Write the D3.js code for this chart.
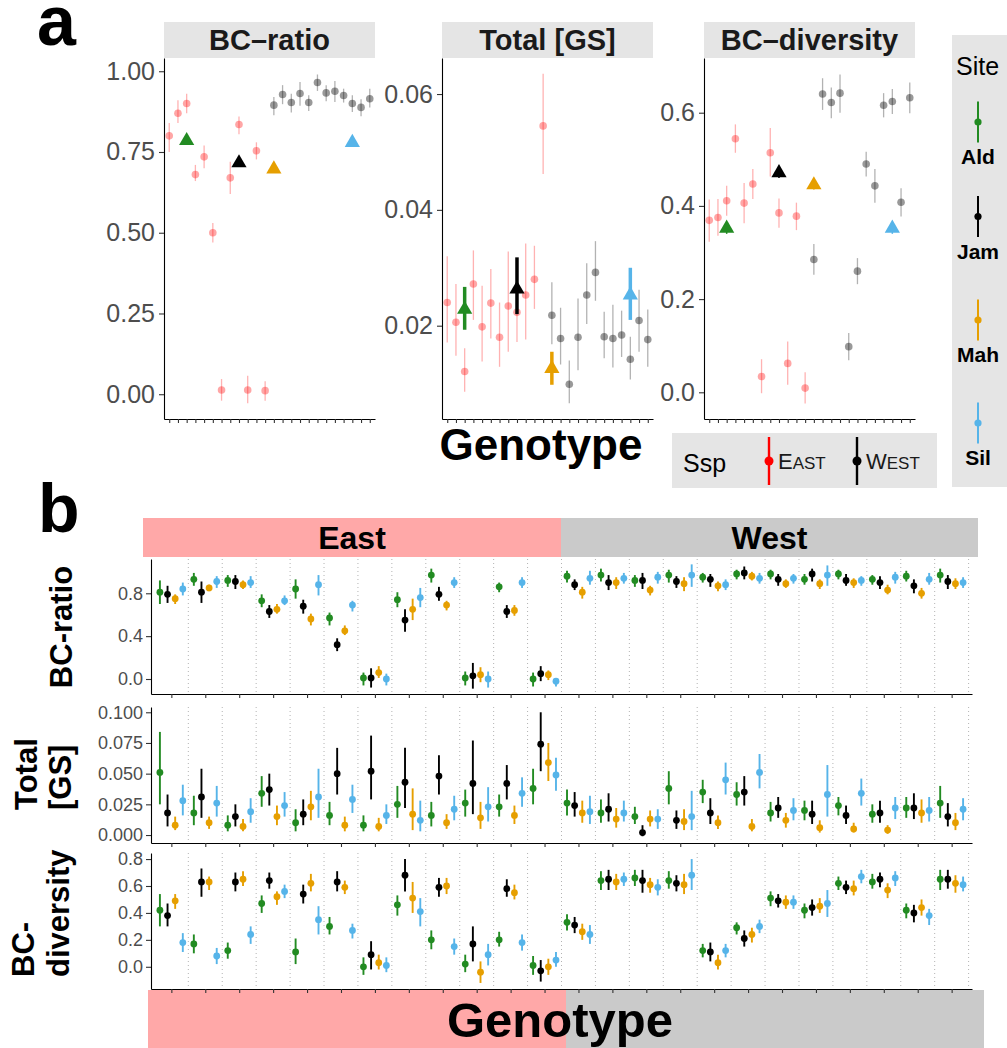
<!DOCTYPE html>
<html>
<head>
<meta charset="utf-8">
<script src="https://cdn.jsdelivr.net/npm/d3@7"></script>
<style>
  body { margin: 0; background: #fff; }
  text { font-family: "Liberation Sans", Arial, Helvetica, sans-serif; }
</style>
</head>
<body>
<div id="chart"></div>
<script>
// ---- data ----
const genotypes = ["E01","E02","E03","E04","E05","E06","E07","E08","E09","E10","E11","E12",
                   "W01","W02","W03","W04","W05","W06","W07","W08","W09","W10","W11","W12"];
const sspNames = ["East", "West"];
const sspOfGenotype = ["East","East","East","East","East","East","East","East","East","East","East","East",
                       "West","West","West","West","West","West","West","West","West","West","West","West"];
const sites = ["Ald", "Jam", "Mah", "Sil"];

// panel a: genotype means [mean, lower, upper]
const genoRatio = [[0.80,0.75,0.84],[0.87,0.84,0.91],[0.90,0.87,0.93],[0.68,0.66,0.71],[0.735,0.70,0.77],[0.50,0.47,0.53],
  [0.013,-0.02,0.047],[0.67,0.62,0.72],[0.835,0.805,0.86],[0.013,-0.028,0.057],[0.754,0.727,0.78],[0.011,-0.02,0.04],
  [0.895,0.864,0.92],[0.928,0.898,0.957],[0.903,0.872,0.93],[0.931,0.893,0.967],[0.903,0.877,0.926],[0.965,0.939,0.99],
  [0.933,0.907,0.957],[0.938,0.905,0.97],[0.925,0.903,0.946],[0.90,0.874,0.926],[0.888,0.861,0.913],[0.915,0.888,0.946]];
const genoGS = [[0.024,0.0171,0.032],[0.0206,0.0148,0.0272],[0.0121,0.0086,0.0161],[0.0272,0.021,0.033],[0.0198,0.0138,0.0269],
  [0.0239,0.0178,0.0298],[0.018,0.0129,0.024],[0.0234,0.0155,0.0328],[0.0223,0.0172,0.0292],[0.0253,0.0176,0.0342],
  [0.028,0.0229,0.0338],[0.0545,0.0462,0.0635],[0.0218,0.0168,0.0275],[0.0178,0.0133,0.0231],[0.0099,0.0066,0.014],
  [0.018,0.0123,0.0247],[0.0253,0.0203,0.0308],[0.0292,0.0243,0.0346],[0.0181,0.0144,0.0224],[0.0178,0.0128,0.0236],
  [0.0184,0.0146,0.0226],[0.0142,0.0107,0.0181],[0.0209,0.0155,0.0262],[0.0176,0.0129,0.0228]];
const genoDiv = [[0.369,0.323,0.414],[0.375,0.336,0.415],[0.411,0.379,0.443],[0.544,0.514,0.575],[0.406,0.363,0.449],
  [0.447,0.415,0.479],[0.034,-0.002,0.071],[0.514,0.463,0.567],[0.385,0.353,0.416],[0.062,0.016,0.109],[0.378,0.348,0.407],
  [0.009,-0.024,0.043],[0.285,0.252,0.318],[0.640,0.606,0.674],[0.622,0.588,0.654],[0.642,0.600,0.682],[0.098,0.069,0.127],
  [0.260,0.232,0.288],[0.490,0.463,0.516],[0.443,0.407,0.479],[0.616,0.590,0.642],[0.624,0.597,0.651],[0.408,0.377,0.438],
  [0.632,0.599,0.665]];

// panel a: site means (triangles), drawn on the genotype slot listed in siteSlot
const siteSlot = ["E03", "E09", "W01", "W10"];
const siteRatio = [[0.785,0.775,0.795],[0.716,0.704,0.728],[0.697,0.687,0.707],[0.779,0.769,0.789]];
const siteGS = [[0.0228,0.0193,0.0267],[0.0263,0.022,0.0318],[0.0126,0.0098,0.0155],[0.0253,0.021,0.030]];
const siteDiv = [[0.352,0.340,0.364],[0.471,0.460,0.482],[0.445,0.435,0.455],[0.352,0.340,0.364]];

// panel b: per genotype, per site (Ald, Jam, Mah, Sil) [mean, lower, upper]
const ratioBySite = [
  [[0.81,0.70,0.92],[0.79,0.71,0.87],[0.75,0.70,0.79],[0.84,0.78,0.90]],
  [[0.93,0.87,0.99],[0.81,0.71,0.91],[0.85,0.82,0.88],[0.91,0.85,0.96]],
  [[0.92,0.86,0.97],[0.91,0.84,0.97],[0.88,0.84,0.92],[0.90,0.85,0.96]],
  [[0.73,0.67,0.79],[0.63,0.57,0.69],[0.65,0.61,0.70],[0.73,0.69,0.78]],
  [[0.84,0.75,0.93],[0.68,0.61,0.74],[0.56,0.50,0.61],[0.88,0.78,0.97]],
  [[0.57,0.50,0.62],[0.32,0.26,0.38],[0.45,0.41,0.50],[0.69,0.63,0.73]],
  [[0.01,-0.06,0.06],[0.01,-0.08,0.10],[0.06,0.01,0.12],[0.00,-0.06,0.05]],
  [[0.74,0.67,0.81],[0.55,0.44,0.65],[0.65,0.55,0.75],[0.76,0.67,0.85]],
  [[0.97,0.90,1.03],[0.79,0.73,0.86],[0.69,0.64,0.73],[0.90,0.85,0.95]],
  [[0.01,-0.06,0.07],[0.03,-0.09,0.15],[0.04,-0.03,0.11],[0.00,-0.08,0.07]],
  [[0.86,0.81,0.90],[0.63,0.57,0.69],[0.64,0.59,0.69],[0.90,0.85,0.95]],
  [[0.00,-0.07,0.06],[0.05,-0.02,0.12],[0.04,-0.01,0.08],[-0.02,-0.07,0.01]],
  [[0.96,0.90,1.01],[0.88,0.83,0.93],[0.81,0.75,0.86],[0.94,0.88,1.01]],
  [[0.97,0.91,1.03],[0.90,0.83,0.97],[0.90,0.84,0.95],[0.94,0.89,0.99]],
  [[0.92,0.86,0.97],[0.92,0.84,0.99],[0.83,0.78,0.87],[0.95,0.89,1.00]],
  [[0.97,0.90,1.02],[0.91,0.85,0.96],[0.89,0.82,0.95],[0.97,0.86,1.07]],
  [[0.95,0.90,0.99],[0.93,0.86,0.98],[0.87,0.82,0.91],[0.88,0.83,0.93]],
  [[0.98,0.93,1.02],[0.99,0.93,1.05],[0.96,0.92,1.00],[0.94,0.89,0.99]],
  [[0.98,0.93,1.02],[0.93,0.87,0.98],[0.89,0.85,0.93],[0.94,0.89,0.98]],
  [[0.93,0.88,0.98],[0.98,0.91,1.03],[0.89,0.84,0.93],[0.97,0.87,1.06]],
  [[0.98,0.93,1.02],[0.92,0.87,0.98],[0.90,0.85,0.94],[0.92,0.87,0.96]],
  [[0.93,0.88,0.97],[0.90,0.84,0.96],[0.83,0.79,0.88],[0.95,0.89,1.00]],
  [[0.96,0.91,1.01],[0.87,0.80,0.93],[0.80,0.75,0.85],[0.93,0.88,0.99]],
  [[0.97,0.90,1.03],[0.91,0.84,0.97],[0.89,0.84,0.94],[0.90,0.85,0.95]]
];
const gsBySite = [
  [[0.051,0.025,0.084],[0.018,0.007,0.033],[0.008,0.004,0.015],[0.028,0.016,0.041]],
  [[0.018,0.008,0.032],[0.031,0.014,0.054],[0.010,0.005,0.015],[0.026,0.015,0.040]],
  [[0.008,0.003,0.016],[0.015,0.007,0.025],[0.007,0.003,0.013],[0.019,0.010,0.030]],
  [[0.034,0.023,0.048],[0.037,0.024,0.050],[0.015,0.008,0.024],[0.024,0.015,0.035]],
  [[0.010,0.003,0.021],[0.017,0.008,0.029],[0.023,0.012,0.036],[0.031,0.014,0.054]],
  [[0.016,0.008,0.027],[0.050,0.033,0.071],[0.008,0.003,0.015],[0.029,0.018,0.041]],
  [[0.008,0.003,0.016],[0.052,0.029,0.081],[0.007,0.003,0.014],[0.016,0.009,0.025]],
  [[0.025,0.014,0.040],[0.043,0.022,0.071],[0.017,0.004,0.038],[0.012,0.003,0.028]],
  [[0.016,0.007,0.027],[0.048,0.033,0.065],[0.010,0.005,0.017],[0.021,0.012,0.032]],
  [[0.026,0.015,0.037],[0.042,0.017,0.077],[0.014,0.005,0.027],[0.023,0.011,0.039]],
  [[0.023,0.015,0.033],[0.042,0.029,0.057],[0.016,0.009,0.024],[0.034,0.023,0.047]],
  [[0.038,0.025,0.054],[0.074,0.052,0.100],[0.059,0.044,0.075],[0.049,0.036,0.063]],
  [[0.026,0.016,0.037],[0.024,0.015,0.035],[0.018,0.010,0.028],[0.019,0.009,0.032]],
  [[0.018,0.010,0.029],[0.021,0.011,0.034],[0.013,0.006,0.022],[0.018,0.011,0.028]],
  [[0.015,0.009,0.023],[0.002,-0.001,0.008],[0.013,0.007,0.020],[0.013,0.005,0.021]],
  [[0.038,0.025,0.052],[0.012,0.005,0.020],[0.011,0.004,0.021],[0.015,0.004,0.036]],
  [[0.035,0.026,0.045],[0.018,0.009,0.030],[0.010,0.005,0.016],[0.045,0.033,0.059]],
  [[0.033,0.024,0.043],[0.035,0.024,0.048],[0.007,0.003,0.013],[0.051,0.038,0.066]],
  [[0.018,0.011,0.027],[0.022,0.014,0.031],[0.012,0.006,0.018],[0.020,0.012,0.030]],
  [[0.020,0.012,0.028],[0.017,0.009,0.028],[0.006,0.002,0.012],[0.033,0.015,0.057]],
  [[0.024,0.016,0.031],[0.016,0.009,0.024],[0.005,0.002,0.010],[0.034,0.024,0.046]],
  [[0.017,0.010,0.025],[0.018,0.010,0.028],[0.004,0.001,0.008],[0.022,0.013,0.031]],
  [[0.022,0.014,0.031],[0.022,0.013,0.034],[0.018,0.010,0.029],[0.020,0.011,0.031]],
  [[0.026,0.014,0.040],[0.015,0.007,0.026],[0.010,0.004,0.018],[0.021,0.012,0.030]]
];
const divBySite = [
  [[0.42,0.30,0.54],[0.38,0.30,0.47],[0.49,0.43,0.54],[0.18,0.11,0.25]],
  [[0.17,0.10,0.24],[0.63,0.52,0.73],[0.63,0.57,0.67],[0.08,0.02,0.14]],
  [[0.12,0.06,0.18],[0.63,0.56,0.70],[0.65,0.60,0.71],[0.24,0.17,0.30]],
  [[0.47,0.40,0.53],[0.64,0.58,0.70],[0.52,0.46,0.56],[0.56,0.51,0.61]],
  [[0.11,0.02,0.21],[0.54,0.47,0.61],[0.62,0.56,0.69],[0.35,0.24,0.45]],
  [[0.30,0.24,0.37],[0.63,0.56,0.71],[0.59,0.54,0.64],[0.27,0.21,0.32]],
  [[0.00,-0.06,0.07],[0.09,-0.02,0.19],[0.03,-0.02,0.09],[0.01,-0.04,0.07]],
  [[0.46,0.38,0.53],[0.68,0.56,0.80],[0.51,0.40,0.63],[0.41,0.30,0.51]],
  [[0.20,0.13,0.27],[0.59,0.52,0.66],[0.60,0.54,0.66],[0.15,0.09,0.21]],
  [[0.02,-0.04,0.09],[0.17,0.04,0.30],[-0.04,-0.12,0.04],[0.09,0.01,0.17]],
  [[0.20,0.15,0.26],[0.58,0.52,0.65],[0.55,0.50,0.61],[0.18,0.12,0.24]],
  [[0.01,-0.06,0.08],[-0.03,-0.11,0.05],[0.00,-0.06,0.06],[0.05,0.00,0.11]],
  [[0.33,0.27,0.39],[0.31,0.25,0.37],[0.26,0.20,0.32],[0.24,0.17,0.31]],
  [[0.64,0.57,0.71],[0.65,0.57,0.72],[0.63,0.57,0.69],[0.65,0.60,0.70]],
  [[0.66,0.60,0.72],[0.64,0.55,0.72],[0.61,0.55,0.66],[0.59,0.53,0.65]],
  [[0.64,0.58,0.71],[0.62,0.56,0.68],[0.61,0.54,0.69],[0.68,0.57,0.80]],
  [[0.12,0.07,0.17],[0.11,0.04,0.18],[0.03,-0.02,0.09],[0.12,0.07,0.17]],
  [[0.29,0.24,0.33],[0.21,0.15,0.27],[0.24,0.18,0.29],[0.30,0.25,0.35]],
  [[0.51,0.45,0.56],[0.49,0.44,0.54],[0.48,0.43,0.53],[0.48,0.43,0.53]],
  [[0.42,0.36,0.47],[0.44,0.38,0.50],[0.45,0.40,0.51],[0.47,0.37,0.57]],
  [[0.62,0.57,0.67],[0.59,0.54,0.64],[0.58,0.53,0.64],[0.67,0.62,0.72]],
  [[0.63,0.58,0.69],[0.65,0.59,0.70],[0.57,0.51,0.62],[0.66,0.60,0.71]],
  [[0.42,0.36,0.47],[0.40,0.33,0.46],[0.44,0.38,0.50],[0.38,0.31,0.43]],
  [[0.65,0.57,0.72],[0.65,0.58,0.72],[0.62,0.55,0.68],[0.61,0.56,0.67]]
];

// tick values
const ratioTicksA = [0, 0.25, 0.5, 0.75, 1];
const gsTicksA = [0.02, 0.04, 0.06];
const divTicksA = [0, 0.2, 0.4, 0.6];
const ratioTicksB = [0, 0.4, 0.8];
const gsTicksB = [0, 0.025, 0.05, 0.075, 0.1];
const divTicksB = [0, 0.2, 0.4, 0.6, 0.8];

// ---- styles ----
const siteColor = d3.scaleOrdinal().domain(sites).range(["#228B22", "#000000", "#E69F00", "#56B4E9"]);
const sspColor = d3.scaleOrdinal().domain(sspNames).range(["#FF0000", "#000000"]);
const stripGrey = "#e5e5e5";

const svg = d3.select("#chart").append("svg")
    .attr("width", 1007)
    .attr("height", 1048);

function styleAxis(g, fontSize) {
    g.select(".domain").attr("stroke", "#000").attr("stroke-width", 1.1);
    g.selectAll(".tick line").attr("stroke", "#333").attr("stroke-width", 1.1);
    g.selectAll(".tick text").attr("fill", "#4d4d4d").attr("font-size", fontSize)
        .attr("font-family", "'Liberation Sans', Arial, sans-serif");
}

// ================= panel a =================
svg.append("text").attr("x", 37).attr("y", 45).attr("font-size", 70).attr("font-weight", "bold").text("a");

const facetsA = [
    {title: "BC\u2013ratio", x0: 164, data: genoRatio, site: siteRatio, domain: [-0.0767, 1.041], ticks: ratioTicksA, fmt: d3.format(".2f"), triErr: 1.5},
    {title: "Total [GS]", x0: 442, data: genoGS, site: siteGS, domain: [0.00389, 0.06622], ticks: gsTicksA, fmt: d3.format(".2f"), triErr: 3.5},
    {title: "BC\u2013diversity", x0: 704, data: genoDiv, site: siteDiv, domain: [-0.0573, 0.7174], ticks: divTicksA, fmt: d3.format(".1f"), triErr: 1.5}
];
const facetW = 211, aTop = 58, aBottom = 419;

facetsA.forEach(f => {
    const x = d3.scalePoint().domain(genotypes).range([f.x0, f.x0 + facetW]).padding(0.6);
    const y = d3.scaleLinear().domain(f.domain).range([aBottom, aTop]);

    svg.append("rect").attr("x", f.x0).attr("y", 22).attr("width", facetW).attr("height", 36).attr("fill", stripGrey);
    svg.append("text").attr("x", f.x0 + facetW / 2).attr("y", 50).attr("text-anchor", "middle")
        .attr("font-size", 29).attr("font-weight", "bold").attr("fill", "#1a1a1a").text(f.title);

    const gy = svg.append("g").attr("transform", `translate(${f.x0},0)`)
        .call(d3.axisLeft(y).tickValues(f.ticks).tickFormat(f.fmt).tickSize(5).tickSizeOuter(0).tickPadding(4));
    styleAxis(gy, 25);
    const gx = svg.append("g").attr("transform", `translate(0,${aBottom})`)
        .call(d3.axisBottom(x).tickSize(4).tickSizeOuter(0).tickFormat(""));
    styleAxis(gx, 10);

    const g = svg.append("g");
    g.selectAll("line").data(f.data).join("line")
        .attr("x1", (d, i) => x(genotypes[i])).attr("x2", (d, i) => x(genotypes[i]))
        .attr("y1", d => y(d[1])).attr("y2", d => y(d[2]))
        .attr("stroke", (d, i) => sspColor(sspOfGenotype[i]))
        .attr("stroke-opacity", 0.3).attr("stroke-width", 1.3);
    g.selectAll("circle").data(f.data).join("circle")
        .attr("cx", (d, i) => x(genotypes[i])).attr("cy", d => y(d[0])).attr("r", 3.8)
        .attr("fill", (d, i) => sspColor(sspOfGenotype[i]))
        .attr("fill-opacity", (d, i) => sspOfGenotype[i] === "East" ? 0.35 : 0.4);

    // site means as triangles
    const t = svg.append("g");
    t.selectAll("line").data(f.site).join("line")
        .attr("x1", (d, i) => x(siteSlot[i])).attr("x2", (d, i) => x(siteSlot[i]))
        .attr("y1", d => y(d[1])).attr("y2", d => y(d[2]))
        .attr("stroke", (d, i) => siteColor(sites[i])).attr("stroke-width", f.triErr);
    t.selectAll("path").data(f.site).join("path")
        .attr("d", d3.symbol(d3.symbolTriangle, 100))
        .attr("transform", (d, i) => `translate(${x(siteSlot[i])},${y(d[0])})`)
        .attr("fill", (d, i) => siteColor(sites[i]));
});

svg.append("text").attr("x", 541).attr("y", 460).attr("text-anchor", "middle")
    .attr("font-size", 44).attr("font-weight", "bold").text("Genotype");

// Ssp legend
const sspLeg = svg.append("g");
sspLeg.append("rect").attr("x", 672).attr("y", 433).attr("width", 265).attr("height", 55).attr("fill", stripGrey);
sspLeg.append("text").attr("x", 683).attr("y", 472).attr("font-size", 25).text("Ssp");
const sspKeyX = [769, 857];
sspNames.forEach((s, i) => {
    sspLeg.append("line").attr("x1", sspKeyX[i]).attr("x2", sspKeyX[i]).attr("y1", 437).attr("y2", 485)
        .attr("stroke", sspColor(s)).attr("stroke-width", 2.4);
    sspLeg.append("circle").attr("cx", sspKeyX[i]).attr("cy", 461).attr("r", 4.5).attr("fill", sspColor(s));
    const tx = sspLeg.append("text").attr("x", sspKeyX[i] + 9).attr("y", 469).attr("fill", "#1a1a1a");
    tx.append("tspan").attr("font-size", 22).text(s[0].toUpperCase());
    tx.append("tspan").attr("font-size", 17).text(s.slice(1).toUpperCase());
});

// Site legend
const siteLeg = svg.append("g");
siteLeg.append("rect").attr("x", 952).attr("y", 35).attr("width", 60).attr("height", 452).attr("fill", stripGrey);
siteLeg.append("text").attr("x", 956).attr("y", 75).attr("font-size", 25).text("Site");
const siteKeyMid = [122, 216.5, 320, 423];
sites.forEach((s, i) => {
    siteLeg.append("line").attr("x1", 978).attr("x2", 978).attr("y1", siteKeyMid[i] - 20.5).attr("y2", siteKeyMid[i] + 20.5)
        .attr("stroke", siteColor(s)).attr("stroke-width", 2);
    siteLeg.append("circle").attr("cx", 978).attr("cy", siteKeyMid[i]).attr("r", 3.6).attr("fill", siteColor(s));
    siteLeg.append("text").attr("x", 978).attr("y", siteKeyMid[i] + 42).attr("text-anchor", "middle")
        .attr("font-size", 21).attr("font-weight", "bold").text(s);
});

// ================= panel b =================
svg.append("text").attr("x", 38).attr("y", 532).attr("font-size", 68).attr("font-weight", "bold").text("b");

const bLeft = 151, bRight = 972;
const xb = d3.scalePoint().domain(genotypes).range([bLeft, bRight]).padding(0.6);
const dodge = d3.scalePoint().domain(sites).range([-1.5, 1.5]);
const dodgeW = 0.9 / 4 * xb.step();

// strip East / West
const sspBand = [[143, 561], [561, 978]];
const sspFill = ["#FFA8A8", "#CACACA"];
sspNames.forEach((s, i) => {
    svg.append("rect").attr("x", sspBand[i][0]).attr("y", 518).attr("width", sspBand[i][1] - sspBand[i][0]).attr("height", 39)
        .attr("fill", sspFill[i]);
    svg.append("text").attr("x", (sspBand[i][0] + sspBand[i][1]) / 2).attr("y", 549).attr("text-anchor", "middle")
        .attr("font-size", 32).attr("font-weight", "bold").text(s);
});

// bottom band with Genotype
const bottomBand = [[148, 566], [566, 984]];
sspNames.forEach((s, i) => {
    svg.append("rect").attr("x", bottomBand[i][0]).attr("y", 990).attr("width", bottomBand[i][1] - bottomBand[i][0]).attr("height", 58)
        .attr("fill", sspFill[i]);
});
svg.append("text").attr("x", 560).attr("y", 1037).attr("text-anchor", "middle")
    .attr("font-size", 49).attr("font-weight", "bold").text("Genotype");

const rowsB = [
    {data: ratioBySite, top: 559, bottom: 694, domain: [-0.14, 1.12], ticks: ratioTicksB, fmt: d3.format(".1f"),
     lines: ["BC-ratio"], lineX: [72], anchor: "middle", ty: 627},
    {data: gsBySite, top: 707, bottom: 843, domain: [-0.0065, 0.1043], ticks: gsTicksB, fmt: d3.format(".3f"),
     lines: ["Total", "[GS]"], lineX: [37, 71], anchor: "start", ty: 810},
    {data: divBySite, top: 853, bottom: 989, domain: [-0.165, 0.845], ticks: divTicksB, fmt: d3.format(".1f"),
     lines: ["BC-", "diversity"], lineX: [34, 69], anchor: "start", ty: 977}
];

rowsB.forEach(r => {
    const y = d3.scaleLinear().domain(r.domain).range([r.bottom, r.top]);

    // dotted separators between genotypes
    svg.append("g").selectAll("line").data(genotypes).join("line")
        .attr("x1", d => xb(d) + xb.step() / 2).attr("x2", d => xb(d) + xb.step() / 2)
        .attr("y1", r.top).attr("y2", r.bottom)
        .attr("stroke", "#b3b3b3").attr("stroke-width", 1).attr("stroke-dasharray", "1,3");

    const gy = svg.append("g").attr("transform", `translate(${bLeft},0)`)
        .call(d3.axisLeft(y).tickValues(r.ticks).tickFormat(r.fmt).tickSize(5).tickSizeOuter(0).tickPadding(3));
    styleAxis(gy, 18);
    const gx = svg.append("g").attr("transform", `translate(0,${r.bottom})`)
        .call(d3.axisBottom(xb).tickSize(4).tickSizeOuter(0).tickFormat(""));
    styleAxis(gx, 10);

    const pts = [];
    r.data.forEach((row, gi) => row.forEach((v, si) => pts.push({g: genotypes[gi], s: sites[si], v})));
    const px = d => xb(d.g) + dodge(d.s) * dodgeW;
    const g = svg.append("g");
    g.selectAll("line").data(pts).join("line")
        .attr("x1", px).attr("x2", px)
        .attr("y1", d => y(d.v[1])).attr("y2", d => y(d.v[2]))
        .attr("stroke", d => siteColor(d.s)).attr("stroke-width", 1.9);
    g.selectAll("circle").data(pts).join("circle")
        .attr("cx", px).attr("cy", d => y(d.v[0])).attr("r", 3.4)
        .attr("fill", d => siteColor(d.s));

    // row title
    r.lines.forEach((ln, li) => {
        svg.append("text").attr("transform", `translate(${r.lineX[li]},${r.ty}) rotate(-90)`)
            .attr("text-anchor", r.anchor).attr("font-size", 31).attr("font-weight", "bold").text(ln);
    });
});
</script>
</body>
</html>
